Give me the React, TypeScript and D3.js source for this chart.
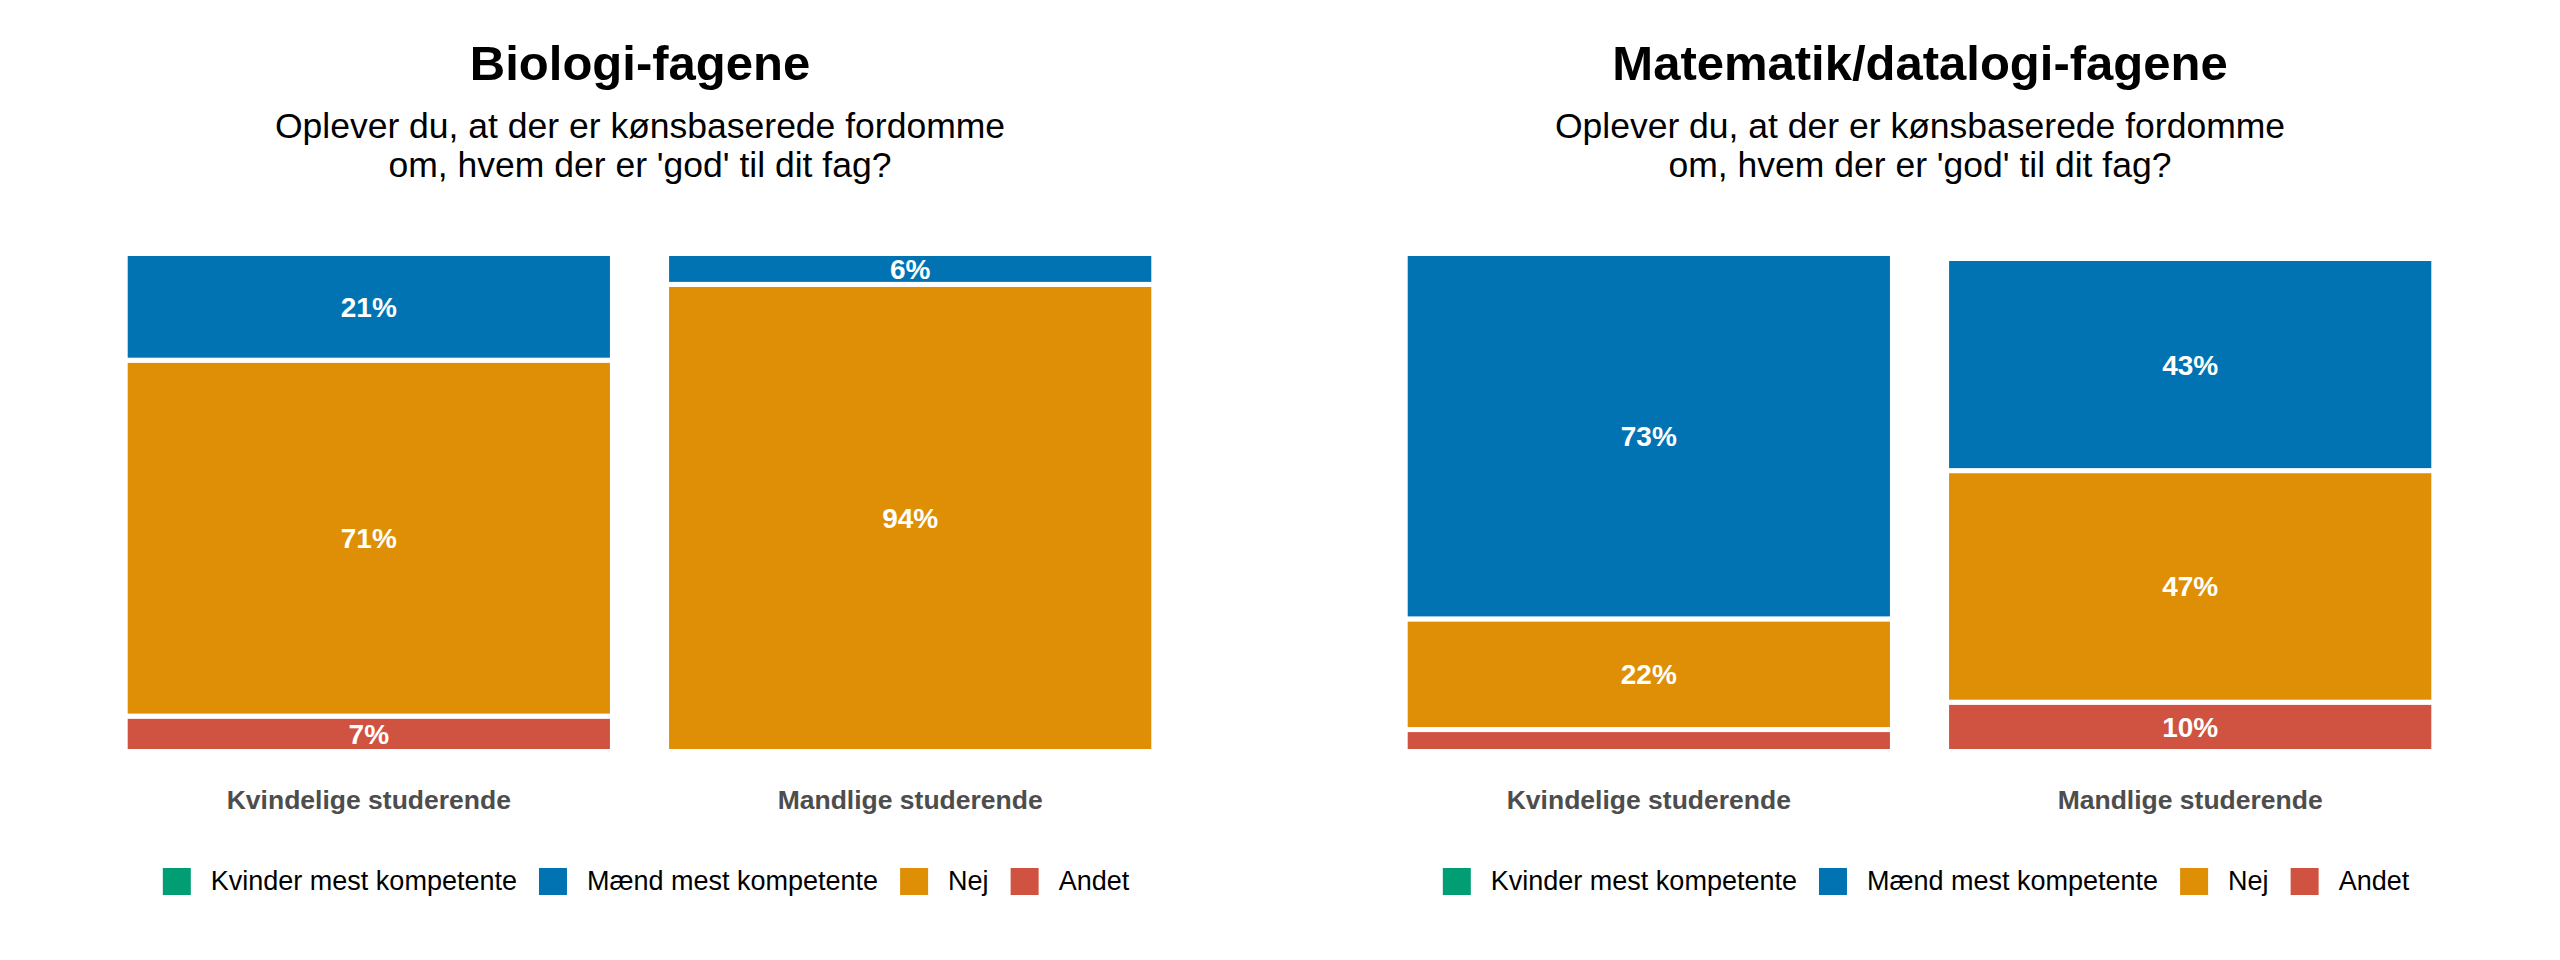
import * as d3 from "d3";
import { useEffect, useRef } from "react";

const categories = ["Kvindelige studerende", "Mandlige studerende"];
const responses = ["Kvinder mest kompetente", "Mænd mest kompetente", "Nej", "Andet"];
const colors = ["#029E73", "#0173B2", "#DE8F05", "#CF5340"];

const titles = ["Biologi-fagene", "Matematik/datalogi-fagene"];
const subtitleLines = [
  "Oplever du, at der er kønsbaserede fordomme",
  "om, hvem der er 'god' til dit fag?",
];

// procent pr. svar, samme rækkefølge som categories
const biologiKvinder = [0, 0];
const biologiMaend = [21.4, 6.2];
const biologiNej = [71.4, 93.8];
const biologiAndet = [7.1, 0];

const matKvinder = [0, 1.0];
const matMaend = [73.3, 42.6];
const matNej = [22.2, 46.5];
const matAndet = [4.4, 9.9];

const panelSeries = [
  [biologiKvinder, biologiMaend, biologiNej, biologiAndet],
  [matKvinder, matMaend, matNej, matAndet],
];

type Row = { category: string; [key: string]: number | string };

const FONT = "'Liberation Sans', Arial, Helvetica, sans-serif";

const App = () => {
  const ref = useRef<SVGSVGElement | null>(null);

  useEffect(() => {
    const svg = d3.select(ref.current);
    svg.selectAll("*").remove();

    const width = 2560,
      height = 960;
    const panelWidth = width / 2;
    const margin = { left: 44, right: 45 };
    const plotTop = 253.5,
      plotBottom = 751.5;

    const y = d3.scaleLinear().domain([0, 1]).range([plotBottom, plotTop]);
    const color = d3.scaleOrdinal<string, string>().domain(responses).range(colors);

    svg
      .append("rect")
      .attr("width", width)
      .attr("height", height)
      .attr("fill", "white");

    panelSeries.forEach((series, p) => {
      const x0 = p * panelWidth;
      const cx = x0 + panelWidth / 2;

      const rows: Row[] = categories.map((c, i) => {
        const row: Row = { category: c };
        responses.forEach((r, k) => (row[r] = series[k][i]));
        return row;
      });

      const x = d3
        .scaleBand()
        .domain(categories)
        .range([x0 + margin.left, x0 + panelWidth - margin.right])
        .paddingInner(0.1)
        .paddingOuter(0.15);

      // bunden først: Andet, Nej, Mænd, Kvinder
      const stack = d3
        .stack<Row>()
        .keys([...responses].reverse())
        .value((d, key) => Number(d[key]))
        .offset(d3.stackOffsetExpand);
      const stacked = stack(rows);

      const g = svg.append("g");

      g.append("text")
        .attr("x", cx)
        .attr("y", 80)
        .attr("text-anchor", "middle")
        .attr("font-family", FONT)
        .attr("font-weight", "bold")
        .attr("font-size", 49)
        .text(titles[p]);

      subtitleLines.forEach((line, i) => {
        g.append("text")
          .attr("x", cx)
          .attr("y", 138 + i * 39)
          .attr("text-anchor", "middle")
          .attr("font-family", FONT)
          .attr("font-size", 35.5)
          .text(line);
      });

      const layers = g
        .selectAll("g.layer")
        .data(stacked)
        .join("g")
        .attr("class", "layer")
        .attr("fill", (d) => color(d.key));

      layers
        .selectAll("rect")
        .data((d) => d.filter((s) => s[1] - s[0] > 0))
        .join("rect")
        .attr("x", (d) => x(d.data.category) ?? 0)
        .attr("width", x.bandwidth())
        .attr("y", (d) => y(d[1]))
        .attr("height", (d) => y(d[0]) - y(d[1]))
        .attr("stroke", "white")
        .attr("stroke-width", 5);

      layers
        .selectAll("text")
        .data((d) => d.filter((s) => (s[1] - s[0]) * 100 >= 5))
        .join("text")
        .attr("x", (d) => (x(d.data.category) ?? 0) + x.bandwidth() / 2)
        .attr("y", (d) => y((d[0] + d[1]) / 2))
        .attr("dy", "0.36em")
        .attr("text-anchor", "middle")
        .attr("fill", "white")
        .attr("font-family", FONT)
        .attr("font-weight", "bold")
        .attr("font-size", 28)
        .text((d) => `${Math.round((d[1] - d[0]) * 100)}%`);

      // kategori-akse uden linjer
      g.selectAll("text.cat")
        .data(categories)
        .join("text")
        .attr("class", "cat")
        .attr("x", (d) => (x(d) ?? 0) + x.bandwidth() / 2)
        .attr("y", 809)
        .attr("text-anchor", "middle")
        .attr("fill", "#4D4D4D")
        .attr("font-family", FONT)
        .attr("font-weight", "bold")
        .attr("font-size", 26.5)
        .text((d) => d);

      // forklaring
      const legend = g.append("g");
      let offset = 0;
      responses.forEach((r) => {
        const item = legend.append("g").attr("transform", `translate(${offset},0)`);
        item
          .append("rect")
          .attr("x", 0)
          .attr("y", 868)
          .attr("width", 28)
          .attr("height", 27)
          .attr("fill", color(r));
        const t = item
          .append("text")
          .attr("x", 48)
          .attr("y", 890)
          .attr("font-family", FONT)
          .attr("font-size", 27)
          .text(r);
        const w = (t.node() as SVGTextElement).getComputedTextLength();
        offset += 48 + w + 22;
      });
      const total = offset - 22;
      legend.attr("transform", `translate(${cx + 6 - total / 2},0)`);
    });
  }, []);

  return (
    <svg
      ref={ref}
      width={2560}
      height={960}
      style={{ position: "absolute", left: 0, top: 0 }}
    ></svg>
  );
};

export default App;
